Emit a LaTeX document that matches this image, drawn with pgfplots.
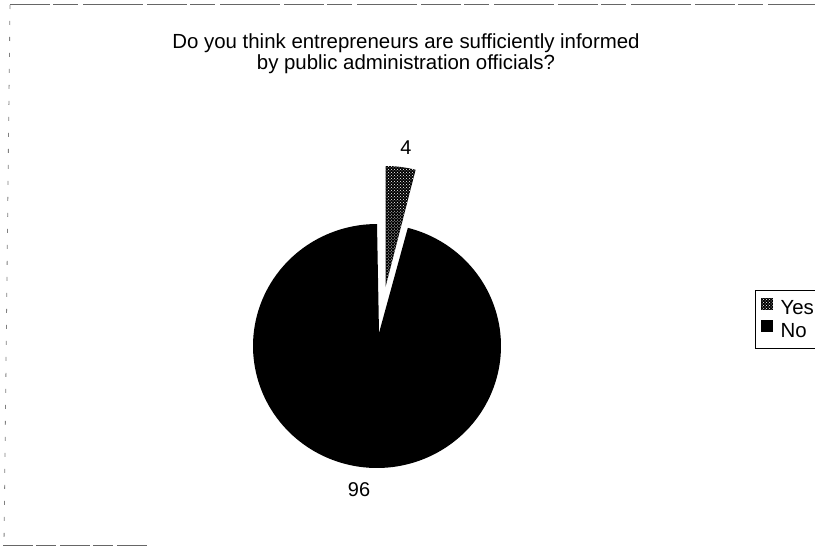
\documentclass[border=0pt]{standalone}
\usepackage{pgfplots}
\pgfplotsset{compat=1.18}
\usepackage{fontspec}
\setmainfont{Liberation Sans}
\usetikzlibrary{patterns}
\begin{document}
\begin{tikzpicture}
\useasboundingbox (0,0) rectangle (815bp,546bp);
\pgfmathsetmacro{\vYes}{4}
\pgfmathsetmacro{\vNo}{96}
\pgfmathsetmacro{\aYes}{360*\vYes/(\vYes+\vNo)}
\pgfmathsetmacro{\aStart}{90-\aYes}
\pgfmathsetmacro{\aEnd}{450-\aYes}
\begin{axis}[
  at={(0,0)}, anchor=south west,
  width=815bp, height=546bp, scale only axis,
  xmin=0, xmax=815, ymin=0, ymax=546, y dir=reverse,
  hide axis, clip=false,
  legend style={at={(axis cs:755,290)}, anchor=north west, draw=black, line width=1.2pt,
    font=\fontsize{20.5}{24}\selectfont, inner xsep=5bp, inner ysep=7bp, row sep=2bp,
    cells={anchor=west, inner sep=0bp},
    /tikz/every odd column/.append style={column sep=6bp}},
  legend image code/.code={\path[#1, line width=0pt] (0bp,-1bp) rectangle (12bp,11bp);},
]
\addplot[fill=black, draw=none, postaction={pattern=crosshatch dots, pattern color=white},
  domain=\aStart:90, samples=20, variable=\t]
  ({385.5+121*cos(\t)}, {287-121*sin(\t)}) -- (axis cs:385.5,287) -- cycle;
\addlegendentry{Yes}
\addplot[fill=black, draw=none, domain=90:\aEnd, samples=160, variable=\t]
  ({377+124*cos(\t)}, {346-122*sin(\t)}) -- (axis cs:379,333) -- cycle;
\addlegendentry{No}
\node[font=\fontsize{20}{22}\selectfont] at (axis cs:406,148) {4};
\node[font=\fontsize{20}{22}\selectfont] at (axis cs:359,490) {96};
\node[align=center, font=\fontsize{20.5}{21}\selectfont] at (axis cs:406,54)
  {Do you think entrepreneurs are sufficiently informed\\by public administration officials?};
\draw[black!60, line width=1bp, dash pattern=on 40bp off 3bp on 25bp off 5bp on 60bp off 4bp] (axis cs:10,5) -- (axis cs:815,5);
\draw[black!50, line width=0.8bp, dash pattern=on 4bp off 12bp] (axis cs:10,5) -- (axis cs:4,545);
\draw[black!60, line width=1bp, dash pattern=on 30bp off 3bp on 20bp off 4bp] (axis cs:3,545) -- (axis cs:147,545);
\end{axis}
\end{tikzpicture}
\end{document}
